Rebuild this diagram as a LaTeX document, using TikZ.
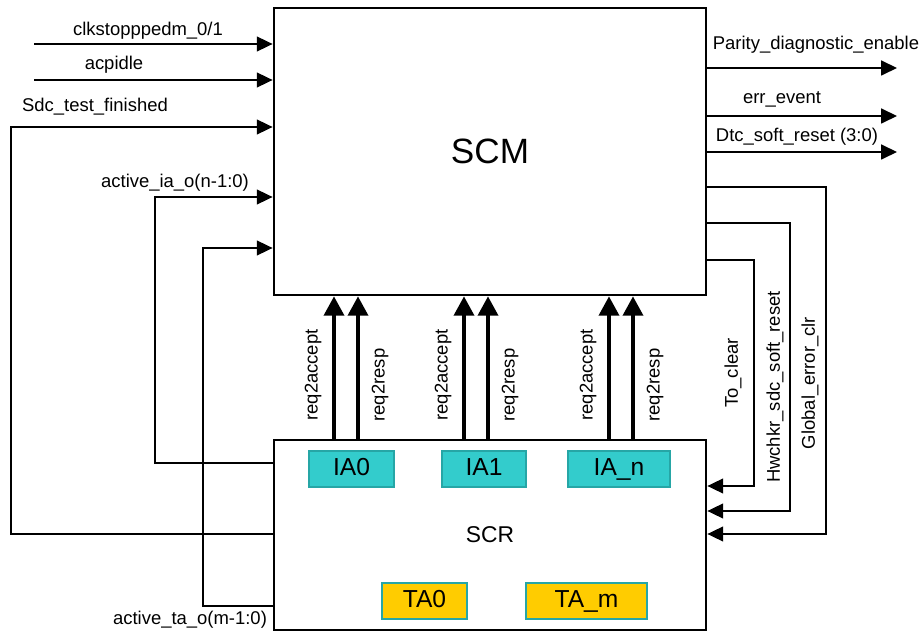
\documentclass[tikz,border=0pt]{standalone}
\usepackage{fontspec}
\setmainfont{Liberation Sans}
\usetikzlibrary{arrows.meta,calc,positioning}
\definecolor{iateal}{HTML}{33CCCC}
\definecolor{iaedge}{HTML}{26A6A6}
\definecolor{tagold}{HTML}{FFCC00}

\begin{document}
\begin{tikzpicture}[x=0.2mm,y=-0.2mm,font=\fontsize{10.5}{12}\selectfont,
    blk/.style={draw,line width=1.6pt,inner sep=0pt},
    sig/.style={line width=0.8pt,-{Triangle[length=9pt,width=8.5pt]}},
    bus/.style={line width=1.8pt,-{Triangle[length=11pt,width=11.5pt]}},
    agent/.style={draw=iaedge,line width=0.8pt,fill=iateal,
      minimum height=7.2mm,inner sep=0pt,text height=0.72em,text depth=0pt,
      font=\fontsize{14}{16}\selectfont},
    target/.style={agent,fill=tagold}]
    \useasboundingbox (0,0) rectangle (923,632);

    % main blocks
    \node[blk,minimum width=86.4mm,minimum height=57.4mm,
      font=\fontsize{20}{24}\selectfont] (scm) at (490,151.5) {SCM};
    \node[blk,minimum width=86.4mm,minimum height=38mm,
      font=\fontsize{13}{15}\selectfont] (scr) at (490,535) {SCR};

    \foreach \lbl/\nm/\cx/\w in {IA0/ia0/351.5/17,IA1/ia1/484/16.8,IA\_n/ian/619/20.4}
      \node[agent,minimum width=\w mm] (\nm) at (\cx,469) {\lbl};
    \node[target,minimum width=17mm] (ta0) at (424.5,601) {TA0};
    \node[target,minimum width=24.2mm] (tam) at (586.5,601) {TA\_m};

    % request buses
    \foreach \bx in {334,358,464,488,609,633} {
      \coordinate (b) at (\bx,0);
      \draw[bus] (b |- scr.north) -- (b |- scm.south);
    }
    \foreach \bx in {313,443,588}
      \node[rotate=90] at (\bx,375) {req2accept};
    \foreach \bx in {380,510,655}
      \node[rotate=90] at (\bx,385) {req2resp};

    % inputs
    \coordinate (clkin) at (34,44);
    \coordinate (acpin) at (34,80);
    \draw[sig] (clkin) -- (clkin -| scm.west);
    \draw[sig] (acpin) -- (acpin -| scm.west);
    \node at (148,31) {clkstopppedm\_0/1};
    \node at (114,65) {acpidle};

    \coordinate (sdcA) at (11,534);
    \coordinate (sdcB) at (11,127);
    \draw[sig] (sdcA -| scr.west) -- (sdcA) -- (sdcB) -- (sdcB -| scm.west);
    \node at (95,107) {Sdc\_test\_finished};

    \coordinate (iaA) at (155,463);
    \coordinate (iaB) at (155,197);
    \draw[sig] (iaA -| scr.west) -- (iaA) -- (iaB) -- (iaB -| scm.west);
    \node at (175,183) {active\_ia\_o(n-1:0)};

    \coordinate (taA) at (203,606);
    \coordinate (taB) at (203,248);
    \draw[sig] (taA -| scr.west) -- (taA) -- (taB) -- (taB -| scm.west);
    \node at (190,620) {active\_ta\_o(m-1:0)};

    % outputs
    \coordinate (parout) at (897,68);
    \coordinate (errout) at (897,116);
    \coordinate (dtcout) at (897,152);
    \draw[sig] (parout -| scm.east) -- (parout);
    \draw[sig] (errout -| scm.east) -- (errout);
    \draw[sig] (dtcout -| scm.east) -- (dtcout);
    \node at (816,45) {Parity\_diagnostic\_enable};
    \node at (782,99) {err\_event};
    \node at (797,137) {Dtc\_soft\_reset (3:0)};

    % feedback to SCR
    \coordinate (gecA) at (826,187);
    \coordinate (gecB) at (826,534);
    \coordinate (hwA) at (790,223);
    \coordinate (hwB) at (790,511);
    \coordinate (tcA) at (754,260);
    \coordinate (tcB) at (754,486);
    \draw[sig] (gecA -| scm.east) -- (gecA) -- (gecB) -- (gecB -| scr.east);
    \draw[sig] (hwA -| scm.east) -- (hwA) -- (hwB) -- (hwB -| scr.east);
    \draw[sig] (tcA -| scm.east) -- (tcA) -- (tcB) -- (tcB -| scr.east);
    \node[rotate=90] at (810,383) {Global\_error\_clr};
    \node[rotate=90] at (775,387) {Hwchkr\_sdc\_soft\_reset};
    \node[rotate=90] at (733,373) {To\_clear};
\end{tikzpicture}
\end{document}
